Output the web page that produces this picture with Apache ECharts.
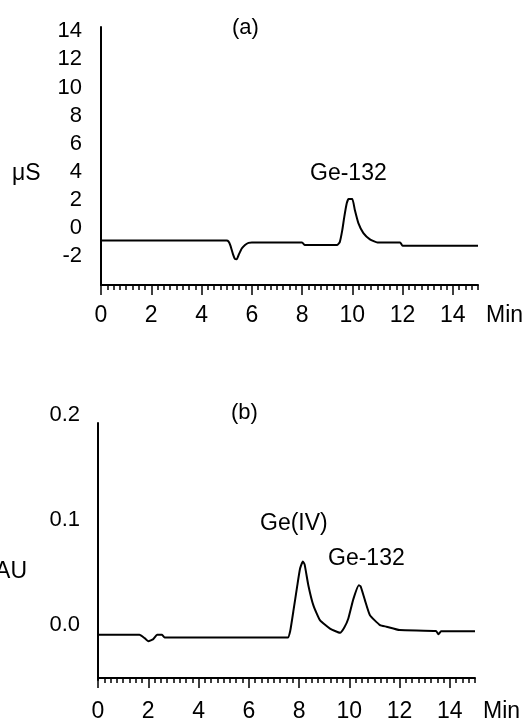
<!DOCTYPE html>
<html>
<head>
<meta charset="utf-8">
<script src="https://cdn.jsdelivr.net/npm/echarts@6/dist/echarts.min.js"></script>
<style>
html,body{margin:0;padding:0;background:#fff;}
#c{width:528px;height:723px;}
</style>
</head>
<body>
<div id="c"></div>
<script>
// ---- data (a): conductivity trace, µS vs time (min)
const timesA = [0, 5.0, 5.07, 5.15, 5.25, 5.33, 5.4, 5.48, 5.6, 5.73, 5.87, 6.0, 8.0, 8.1, 9.4, 9.5, 9.6, 9.68, 9.78, 9.85, 10.0, 10.1, 10.24, 10.44, 10.7, 11.0, 11.9, 12.0, 15.0];
const valuesA = [-0.88, -0.88, -0.95, -1.25, -1.85, -2.2, -2.22, -1.9, -1.45, -1.2, -1.05, -1.02, -1.02, -1.2, -1.2, -1.0, -0.15, 0.8, 1.78, 2.06, 2.06, 1.28, 0.35, -0.36, -0.8, -1.02, -1.02, -1.26, -1.26];
// ---- data (b): UV trace, AU vs time (min)
const timesB = [0, 1.65, 1.85, 2.0, 2.2, 2.35, 2.55, 2.65, 7.55, 7.65, 7.77, 7.93, 8.04, 8.15, 8.22, 8.37, 8.57, 8.83, 9.23, 9.63, 9.8, 9.96, 10.16, 10.38, 10.45, 10.62, 10.82, 11.22, 11.48, 12.0, 13.45, 13.55, 13.65, 15];
const valuesB = [-0.009, -0.009, -0.012, -0.015, -0.013, -0.009, -0.009, -0.0115, -0.0115, -0.005, 0.013, 0.038, 0.054, 0.0607, 0.058, 0.038, 0.019, 0.005, -0.003, -0.007, -0.002, 0.0066, 0.025, 0.0381, 0.037, 0.024, 0.0097, 0.0003, -0.0012, -0.0044, -0.0054, -0.0085, -0.0056, -0.0056];
// ---- tick labels
const xTicks = [0, 2, 4, 6, 8, 10, 12, 14];
const yTicksA = [-2, 0, 2, 4, 6, 8, 10, 12, 14];
const yTicksB = [0, 0.1, 0.2];
const xName = 'Min';
const yNameA = 'μS';
const yNameB = 'AU';
const panelA = '(a)';
const panelB = '(b)';
const peakLabelsA = ['Ge-132'];
const peakLabelsB = ['Ge(IV)', 'Ge-132'];

const FONT = '"Liberation Sans", Arial, sans-serif';
const pairs = (t, v) => t.map((x, i) => [x, v[i]]);

const chart = echarts.init(document.getElementById('c'), null, {renderer: 'canvas'});

function minorAxis(gridIndex) {
  return {
    type: 'value', gridIndex, min: 0, max: 15, interval: 0.25, position: 'bottom',
    axisLine: {show: true, onZero: false, lineStyle: {color: '#000', width: 2}},
    axisTick: {show: true, length: 5, lineStyle: {color: '#000', width: 1.5}},
    axisLabel: {show: false}, splitLine: {show: false}
  };
}
function majorAxis(gridIndex, margin) {
  return {
    type: 'value', gridIndex, min: 0, max: 15, interval: 2, position: 'bottom',
    name: xName, nameLocation: 'end', nameGap: 8,
    nameTextStyle: {color: '#000', fontFamily: FONT, fontSize: 23, verticalAlign: 'top', padding: [margin, 0, 0, 0]},
    axisLine: {show: false, onZero: false},
    axisTick: {show: true, length: 10, customValues: xTicks, lineStyle: {color: '#000', width: 1.5}},
    axisLabel: {show: true, customValues: xTicks, margin, color: '#000', fontFamily: FONT, fontSize: 23},
    splitLine: {show: false}
  };
}

const option = {
  backgroundColor: '#fff',
  animation: false,
  grid: [
    {left: 101, top: 27, width: 377, height: 258},
    {left: 98, top: 415, width: 377, height: 265},
    {left: 98, top: 423, width: 377, height: 257}
  ],
  xAxis: [
    minorAxis(0), majorAxis(0, 19),
    minorAxis(1), majorAxis(1, 22),
    {type: 'value', gridIndex: 2, min: 0, max: 15, show: false}
  ],
  yAxis: [
    {type: 'value', gridIndex: 0, min: -4.05, max: 14.3,
     axisLine: {show: true, onZero: false, lineStyle: {color: '#000', width: 2}},
     axisTick: {show: false}, splitLine: {show: false},
     axisLabel: {customValues: yTicksA, margin: 19, color: '#000', fontFamily: FONT, fontSize: 22}},
    {type: 'value', gridIndex: 1, min: -0.05, max: 0.2,
     axisLine: {show: false, onZero: false},
     axisTick: {show: false}, splitLine: {show: false},
     axisLabel: {customValues: yTicksB, margin: 18, color: '#000', fontFamily: FONT, fontSize: 22,
                 formatter: v => v.toFixed(1)}},
    {type: 'value', gridIndex: 2, min: 0, max: 1,
     axisLine: {show: true, onZero: false, lineStyle: {color: '#000', width: 2}},
     axisTick: {show: false}, axisLabel: {show: false}, splitLine: {show: false}}
  ],
  series: [
    {type: 'line', xAxisIndex: 0, yAxisIndex: 0, data: pairs(timesA, valuesA),
     showSymbol: false, smooth: 0.15, lineStyle: {color: '#000', width: 2}},
    {type: 'line', xAxisIndex: 2, yAxisIndex: 1, data: pairs(timesB, valuesB),
     showSymbol: false, smooth: 0.15, lineStyle: {color: '#000', width: 2}}
  ],
  graphic: [
    {type: 'text', left: 232, top: 17, style: {text: panelA, fill: '#000', font: '22px ' + FONT}},
    {type: 'text', left: 12, top: 162, style: {text: yNameA, fill: '#000', font: '23px ' + FONT}},
    {type: 'text', left: 310, top: 162, style: {text: peakLabelsA[0], fill: '#000', font: '23px ' + FONT}},
    {type: 'text', left: 231, top: 402, style: {text: panelB, fill: '#000', font: '22px ' + FONT}},
    {type: 'text', right: 501, top: 560, style: {text: yNameB, fill: '#000', font: '23px ' + FONT, textAlign: 'right'}},
    {type: 'text', left: 260, top: 512, style: {text: peakLabelsB[0], fill: '#000', font: '23px ' + FONT}},
    {type: 'text', left: 328, top: 547, style: {text: peakLabelsB[1], fill: '#000', font: '23px ' + FONT}}
  ]
};
chart.setOption(option);
</script>
</body>
</html>
